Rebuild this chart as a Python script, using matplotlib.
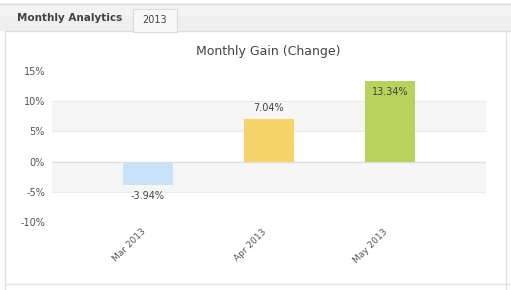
import matplotlib
matplotlib.use("Agg")
import matplotlib.pyplot as plt
import matplotlib.transforms as mtransforms
from matplotlib.patches import Rectangle
from matplotlib.lines import Line2D

W, H = 511, 290

months = ["Mar 2013", "Apr 2013", "May 2013"]
gains = [-3.94, 7.04, 13.34]
bar_colors = ["#c8e3f7", "#f7d46a", "#b7d35b"]
y_ticks = [-10, -5, 0, 5, 10, 15]

plt.rcParams["font.family"] = ["DejaVu Sans"]

fig = plt.figure(figsize=(W / 100, H / 100), dpi=100)
fig.patch.set_facecolor("white")


def px(x, y):
    # pixel coords from top-left -> figure fraction
    return x / W, 1 - y / H


def rect(x0, y0, x1, y1, **kw):
    (fx0, fy1), (fx1, fy0) = px(x0, y0), px(x1, y1)
    fig.add_artist(Rectangle((fx0, fy0), fx1 - fx0, fy1 - fy0,
                             transform=fig.transFigure, **kw))


def hline(x0, x1, y, color="#e2e2e2", lw=1):
    fig.add_artist(Line2D([x0 / W, x1 / W], [1 - y / H, 1 - y / H],
                          transform=fig.transFigure, color=color, lw=lw))


def vline(x, y0, y1, color="#e2e2e2", lw=1):
    fig.add_artist(Line2D([x / W, x / W], [1 - y0 / H, 1 - y1 / H],
                          transform=fig.transFigure, color=color, lw=lw))


# tab bar
rect(0, 3, W, 31, facecolor="#efefef", edgecolor="none")
rect(0, 3, W, 16, facecolor="#f3f3f3", edgecolor="none")
hline(0, W, 3.5, color="#dcdcdc")
hline(5, 133, 31, color="#dcdcdc")
hline(177, W, 31, color="#dcdcdc")
rect(133, 9, 177, 32, facecolor="#f8f8f8", edgecolor="#dcdcdc", lw=0.8)
fig.text(17 / W, 1 - 18 / H, "Monthly Analytics", fontsize=7.5,
         fontweight="bold", color="#444444", va="center", ha="left")
fig.text(155 / W, 1 - 20 / H, "2013", fontsize=7, color="#444444",
         va="center", ha="center")

# panel borders
vline(5, 31, H)
vline(506, 31, H)
hline(5, W, 284)

# chart
left, top, right, bottom = 52, 71, 486, 222
ax = fig.add_axes([left / W, 1 - bottom / H, (right - left) / W, (bottom - top) / H])
ax.set_facecolor("none")
x = list(range(len(months)))
ax.set_xlim(-0.793, 2.793)
ax.set_ylim(-10, 15)

for lo, hi in [(5, 10), (-5, 0)]:
    ax.axhspan(lo, hi, color="#f6f6f6", lw=0, zorder=0)
for t in [10, 5, -5]:
    ax.axhline(t, color="#ececec", lw=0.8, zorder=1)
ax.axhline(0, color="#dedede", lw=1, zorder=1)

ax.bar(x, gains, width=0.413, color=bar_colors, zorder=2)

for xi, v in zip(x, gains):
    label = f"{v:.2f}%"
    if v < 0:
        ax.text(xi, v - 0.9, label, ha="center", va="top", fontsize=7, color="#444444")
    elif v > 12:
        ax.text(xi, v - 1.0, label, ha="center", va="top", fontsize=7, color="#444444")
    else:
        ax.text(xi, v + 1.0, label, ha="center", va="bottom", fontsize=7, color="#444444")

ax.set_yticks(y_ticks)
ax.set_yticklabels([f"{t}%" for t in y_ticks], fontsize=7, color="#555555")
ax.set_xticks(x)
ax.set_xticklabels(months, rotation=45, ha="right", va="center",
                   rotation_mode="anchor", fontsize=6.5, color="#555555")
ax.tick_params(axis="both", length=0, pad=5)
ax.tick_params(axis="x", pad=9)
shift = mtransforms.ScaledTranslation(-4 / 100, 4 / 100, fig.dpi_scale_trans)
for lbl in ax.get_xticklabels():
    lbl.set_transform(lbl.get_transform() + shift)
for s in ax.spines.values():
    s.set_visible(False)

fig.text(268 / W, 1 - 52 / H, "Monthly Gain (Change)", fontsize=9,
         color="#444444", ha="center", va="center")

fig.savefig("out.png", dpi=100)
